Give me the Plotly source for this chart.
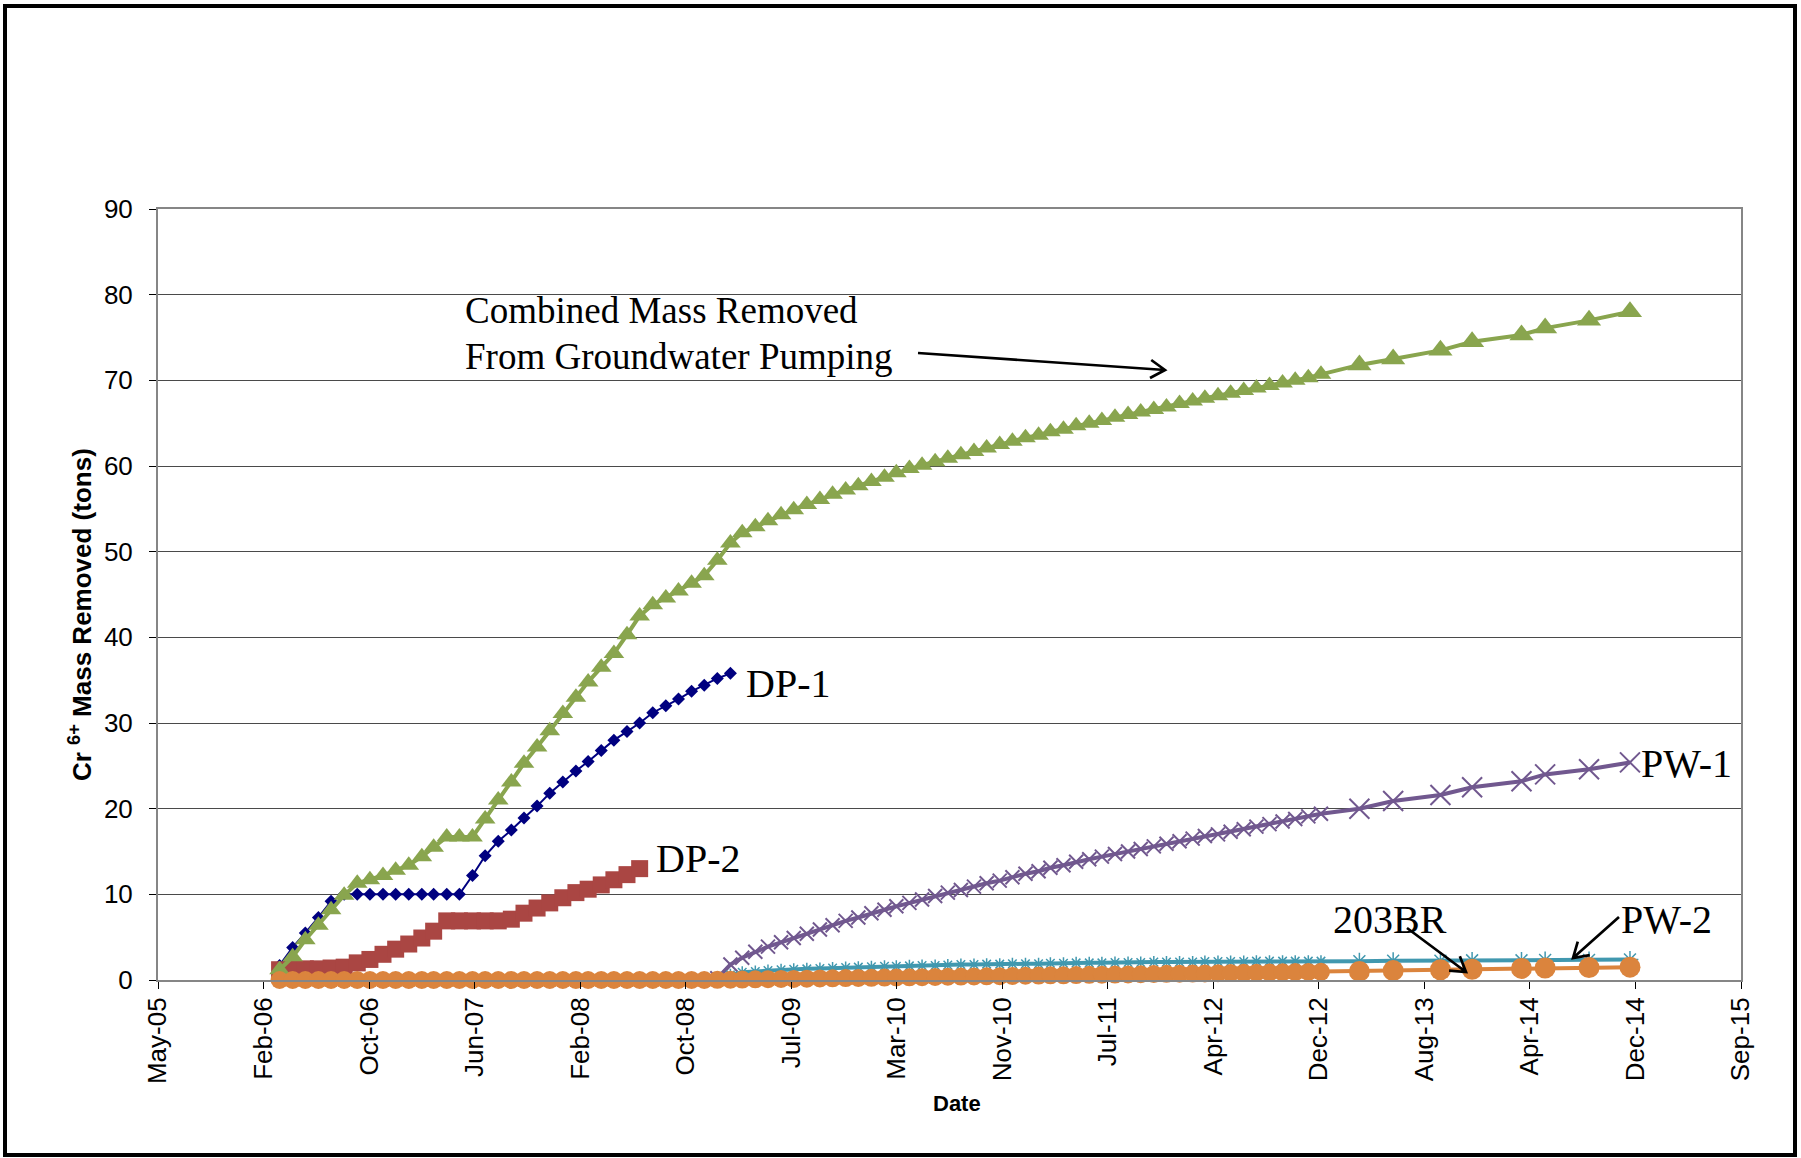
import math
import pandas as pd
import plotly.graph_objects as go

# ---------------- data ----------------
DENSE_MONTHS = [
    "2006-03", "2006-04", "2006-05", "2006-06", "2006-07", "2006-08", "2006-09", "2006-10", "2006-11", "2006-12",
    "2007-01", "2007-02", "2007-03", "2007-04", "2007-05", "2007-06", "2007-07", "2007-08", "2007-09", "2007-10", "2007-11", "2007-12",
    "2008-01", "2008-02", "2008-03", "2008-04", "2008-05", "2008-06", "2008-07", "2008-08", "2008-09", "2008-10", "2008-11", "2008-12",
    "2009-01", "2009-02", "2009-03", "2009-04", "2009-05", "2009-06", "2009-07", "2009-08", "2009-09", "2009-10", "2009-11", "2009-12",
    "2010-01", "2010-02", "2010-03", "2010-04", "2010-05", "2010-06", "2010-07", "2010-08", "2010-09", "2010-10", "2010-11", "2010-12",
    "2011-01", "2011-02", "2011-03", "2011-04", "2011-05", "2011-06", "2011-07", "2011-08", "2011-09", "2011-10", "2011-11", "2011-12",
    "2012-01", "2012-02", "2012-03", "2012-04", "2012-05", "2012-06", "2012-07", "2012-08", "2012-09", "2012-10", "2012-11", "2012-12",
]
QUARTER_DATES = ["2013-03-13", "2013-06-01", "2013-09-21", "2013-12-05",
                 "2014-04-01", "2014-05-27", "2014-09-08", "2014-12-14"]

# DP-1: Mar-2006 .. Feb-2009
DP1 = [1.7, 3.8, 5.5, 7.3, 9.2, 10.0, 10.0, 10.0, 10.0, 10.0,
       10.0, 10.0, 10.0, 10.0, 10.0, 12.2, 14.5, 16.2, 17.5, 18.9, 20.3, 21.8,
       23.1, 24.4, 25.5, 26.8, 28.0, 29.0, 30.0, 31.2, 32.0, 32.8, 33.7, 34.4,
       35.2, 35.8]
# DP-2: Mar-2006 .. Jul-2008
DP2 = [1.2, 1.3, 1.3, 1.3, 1.4, 1.5, 2.0, 2.4, 3.0, 3.6,
       4.2, 4.9, 5.7, 6.9, 6.9, 6.9, 6.9, 6.9, 7.1, 7.8, 8.4, 9.0,
       9.6, 10.2, 10.6, 11.1, 11.7, 12.3, 13.0]
# Combined: Mar-2006 .. Dec-2012 monthly, then quarterly
COMBINED = [1.2, 2.7, 4.7, 6.4, 8.2, 9.9, 11.3, 11.7, 12.2, 12.8,
            13.4, 14.4, 15.5, 16.7, 16.7, 16.7, 18.8, 21.0, 23.1, 25.3, 27.2, 29.1,
            31.1, 33.0, 34.8, 36.5, 38.1, 40.3, 42.5, 43.8, 44.6, 45.4, 46.3, 47.2,
            49.0, 51.0, 52.2, 52.9, 53.6, 54.3, 54.9, 55.5, 56.1, 56.7, 57.2, 57.7,
            58.2, 58.7, 59.2, 59.7, 60.1, 60.5, 60.9, 61.3, 61.7, 62.1, 62.5, 62.9,
            63.3, 63.6, 64.0, 64.3, 64.7, 65.0, 65.3, 65.7, 66.0, 66.3, 66.6, 66.9,
            67.3, 67.6, 67.9, 68.2, 68.5, 68.8, 69.1, 69.4, 69.7, 70.0, 70.3, 70.7]
COMBINED_Q = [71.8, 72.5, 73.5, 74.5, 75.3, 76.1, 77.0, 78.0]
# PW-1: Jan-2009 .. Dec-2012 monthly, then quarterly
PW1 = [0.2, 1.8, 2.6, 3.3, 3.9, 4.4, 4.9, 5.4, 5.9, 6.4, 6.9, 7.3,
       7.8, 8.2, 8.6, 9.0, 9.4, 9.8, 10.2, 10.5, 10.9, 11.3, 11.6, 12.0,
       12.4, 12.7, 13.1, 13.4, 13.8, 14.1, 14.4, 14.7, 15.0, 15.3, 15.6, 15.9,
       16.2, 16.5, 16.8, 17.0, 17.3, 17.6, 17.9, 18.2, 18.5, 18.8, 19.1, 19.4]
PW1_Q = [20.0, 20.9, 21.6, 22.5, 23.2, 24.0, 24.6, 25.4]
# PW-2: Mar-2006 .. Dec-2012 monthly, then quarterly
PW2 = [0.0] * 34 + [
       0.2, 0.6, 0.9, 1.0, 1.1, 1.2, 1.25, 1.3, 1.35, 1.4, 1.45, 1.5,
       1.55, 1.6, 1.6, 1.65, 1.7, 1.7, 1.75, 1.8, 1.8, 1.85, 1.85, 1.9,
       1.9, 1.9, 1.95, 1.95, 2.0, 2.0, 2.0, 2.05, 2.05, 2.05, 2.1, 2.1,
       2.1, 2.1, 2.15, 2.15, 2.15, 2.15, 2.2, 2.2, 2.2, 2.2, 2.2, 2.2]
PW2_Q = [2.2, 2.25, 2.25, 2.3, 2.3, 2.35, 2.35, 2.4]
# 203BR: Mar-2006 .. Dec-2012 monthly, then quarterly
BR203 = [0.0] * 34 + [
       0.02, 0.03, 0.05, 0.08, 0.1, 0.12, 0.13, 0.15, 0.18, 0.2, 0.22, 0.24,
       0.26, 0.28, 0.3, 0.31, 0.33, 0.36, 0.38, 0.4, 0.42, 0.43, 0.45, 0.48,
       0.5, 0.52, 0.54, 0.55, 0.57, 0.6, 0.62, 0.64, 0.65, 0.67, 0.7, 0.72,
       0.74, 0.75, 0.77, 0.8, 0.82, 0.84, 0.85, 0.87, 0.9, 0.92, 0.94, 0.96]
BR203_Q = [1.0, 1.1, 1.2, 1.25, 1.35, 1.4, 1.45, 1.5]

# x axis: Excel serial dates, major unit 250 days
TICK_SERIALS = [38500, 38750, 39000, 39250, 39500, 39750, 40000, 40250,
                40500, 40750, 41000, 41250, 41500, 41750, 42000, 42250]
TICK_LABELS = ["May-05", "Feb-06", "Oct-06", "Jun-07", "Feb-08", "Oct-08", "Jul-09", "Mar-10",
               "Nov-10", "Jul-11", "Apr-12", "Dec-12", "Aug-13", "Apr-14", "Dec-14", "Sep-15"]
Y_TICKS = [0, 10, 20, 30, 40, 50, 60, 70, 80, 90]

# ---------------- build ----------------
dense_dates = pd.to_datetime([m + "-12" for m in DENSE_MONTHS])
q_dates = pd.to_datetime(QUARTER_DATES)
tick_dates = pd.Timestamp("1899-12-30") + pd.to_timedelta(TICK_SERIALS, unit="D")

W, H = 1801, 1158
L, R, T, B = 158, 60, 209, 178
PW_, PH_ = W - L - R, H - T - B


def px(x):
    return (x - L) / PW_


def py(y):
    return (H - B - y) / PH_


fig = go.Figure()


def add_series(x, y, name, color, lw, symbol, size, mline=None):
    marker = dict(symbol=symbol, size=size, color=color, opacity=1)
    if mline:
        marker["line"] = dict(color=color, width=mline)
    else:
        marker["line"] = dict(width=0)
    fig.add_trace(go.Scatter(x=x, y=y, name=name, mode="lines+markers",
                             line=dict(color=color, width=lw), marker=marker,
                             cliponaxis=False, showlegend=False))


nd = len(DENSE_MONTHS)
nq = len(QUARTER_DATES)

add_series(dense_dates[:len(DP1)], DP1, "DP-1", "#000080", 2, "diamond", 10)
add_series(dense_dates[:len(DP2)], DP2, "DP-2", "#AA4643", 3, "square", 17)
add_series(list(dense_dates) + list(q_dates), COMBINED + COMBINED_Q, "Combined",
           "#89A54E", 4, "triangle-up", [18] * nd + [21] * nq)
pw1_dates = list(dense_dates[nd - len(PW1):]) + list(q_dates)
add_series(pw1_dates, PW1 + PW1_Q, "PW-1", "#71588F", 4, "x-thin",
           [14] * len(PW1) + [20] * nq, mline=2)
add_series(list(dense_dates) + list(q_dates), PW2 + PW2_Q, "PW-2", "#4198AF", 4, "asterisk",
           [10] * nd + [14] * nq, mline=1.5)
add_series(list(dense_dates) + list(q_dates), BR203 + BR203_Q, "203BR", "#DB843D", 4, "circle",
           [18] * nd + [21] * nq)

sans = "Liberation Sans, Arial, sans-serif"
serif = "Liberation Serif, Times New Roman, serif"
tick_font = dict(family=sans, size=26, color="black")
label_font = dict(family=serif, size=40, color="black")
note_font = dict(family=serif, size=37, color="black")

fig.update_layout(
    width=W, height=H,
    margin=dict(l=L, r=R, t=T, b=B, autoexpand=False),
    paper_bgcolor="white", plot_bgcolor="white",
    showlegend=False,
    xaxis=dict(
        type="date", range=[tick_dates[0], tick_dates[-1]],
        tickmode="array", tickvals=list(tick_dates), ticktext=TICK_LABELS,
        tickangle=-90, tickfont=tick_font, ticks="outside", ticklen=7, tickwidth=1,
        tickcolor="black", ticklabelstandoff=-2,
        showgrid=False, zeroline=False,
        showline=True, linecolor="#868686", linewidth=2, mirror=True,
    ),
    yaxis=dict(
        range=[0, 90], tickmode="array", tickvals=Y_TICKS,
        tickfont=tick_font, ticks="outside", ticklen=7, tickwidth=1, tickcolor="black",
        ticklabelstandoff=11,
        showgrid=True, gridcolor="#4a4a4a", gridwidth=1, zeroline=False,
        showline=True, linecolor="#868686", linewidth=2, mirror=True,
    ),
)

# axis titles (placed as in the reference)
fig.add_annotation(xref="paper", yref="paper", x=px(957), y=py(1103),
                   text="<b>Date</b>", showarrow=False, xanchor="center", yanchor="middle",
                   font=dict(family=sans, size=22, color="black"))
fig.add_annotation(xref="paper", yref="paper", x=px(80), y=py(615),
                   text="<b>Cr <sup>6+</sup> Mass Removed (tons)</b>", textangle=-90,
                   showarrow=False, xanchor="center", yanchor="middle",
                   font=dict(family=sans, size=26, color="black"))

annos = [
    dict(text="Combined Mass Removed", x=px(464), y=py(310), font=note_font),
    dict(text="From Groundwater Pumping", x=px(464), y=py(356), font=note_font),
    dict(text="DP-1", x=px(745), y=py(683), font=label_font),
    dict(text="DP-2", x=px(655), y=py(858), font=label_font),
    dict(text="PW-1", x=px(1640), y=py(763), font=label_font),
    dict(text="203BR", x=px(1332), y=py(919), font=label_font),
    dict(text="PW-2", x=px(1620), y=py(919), font=label_font),
]
for a in annos:
    fig.add_annotation(xref="paper", yref="paper", xanchor="left", yanchor="middle",
                       showarrow=False, borderpad=0, **a)

# arrows drawn as open-headed line paths: (head_x, head_y, tail_x, tail_y) in pixels
ARROWS = [(1165, 370, 918, 353), (1466, 972, 1407, 928), (1573, 958, 1619, 917)]
HEAD_LEN, HEAD_ANG = 17, math.radians(32)
for hx, hy, tx, ty in ARROWS:
    ang = math.atan2(ty - hy, tx - hx)
    a1 = (hx + HEAD_LEN * math.cos(ang + HEAD_ANG), hy + HEAD_LEN * math.sin(ang + HEAD_ANG))
    a2 = (hx + HEAD_LEN * math.cos(ang - HEAD_ANG), hy + HEAD_LEN * math.sin(ang - HEAD_ANG))
    path = (f"M{px(tx)},{py(ty)} L{px(hx)},{py(hy)} "
            f"M{px(a1[0])},{py(a1[1])} L{px(hx)},{py(hy)} L{px(a2[0])},{py(a2[1])}")
    fig.add_shape(type="path", xref="paper", yref="paper", path=path,
                  line=dict(color="black", width=2.7))

# outer frame
fig.add_shape(type="rect", xref="paper", yref="paper",
              x0=px(5), x1=px(1795), y0=py(1155), y1=py(6),
              line=dict(color="black", width=4), fillcolor="rgba(0,0,0,0)")

fig.write_html("out.html", config={"displayModeBar": False},
               post_script="document.body.style.margin='0';document.body.style.overflow='hidden';")
